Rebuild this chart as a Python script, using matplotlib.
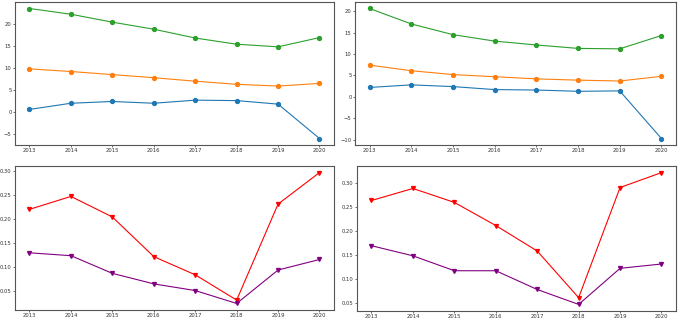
import matplotlib
matplotlib.use("Agg")
import matplotlib.pyplot as plt

years = [2013, 2014, 2015, 2016, 2017, 2018, 2019, 2020]

# top-left panel
tl_blue = [0.6, 2.0, 2.4, 2.0, 2.7, 2.6, 1.8, -6.0]
tl_orange = [9.8, 9.2, 8.5, 7.8, 7.0, 6.3, 5.9, 6.5]
tl_green = [23.5, 22.2, 20.4, 18.8, 16.8, 15.4, 14.8, 16.9]

# top-right panel
tr_blue = [2.2, 2.8, 2.4, 1.7, 1.6, 1.3, 1.4, -9.7]
tr_orange = [7.4, 6.1, 5.2, 4.7, 4.2, 3.9, 3.7, 4.8]
tr_green = [20.6, 17.0, 14.5, 13.0, 12.1, 11.3, 11.2, 14.3]

# bottom-left panel
bl_red = [0.220, 0.247, 0.204, 0.121, 0.083, 0.030, 0.231, 0.297]
bl_purple = [0.129, 0.123, 0.086, 0.064, 0.050, 0.023, 0.093, 0.115]

# bottom-right panel
br_red = [0.264, 0.289, 0.260, 0.212, 0.159, 0.062, 0.291, 0.322]
br_purple = [0.170, 0.149, 0.118, 0.118, 0.079, 0.048, 0.123, 0.132]

W, H = 678, 320
fig = plt.figure(figsize=(W / 100, H / 100), dpi=100)


def px_axes(x0, y0, x1, y1):
    return fig.add_axes([x0 / W, 1 - y1 / H, (x1 - x0) / W, (y1 - y0) / H])


def style(ax):
    ax.set_xticks(years)
    ax.tick_params(labelsize=3.8, length=1.5, width=0.5, pad=1, colors="#333333")
    for s in ax.spines.values():
        s.set_linewidth(0.8)
        s.set_color("#555555")


lw, ms = 0.8, 2.8

ax = px_axes(15, 2, 334, 145)
ax.plot(years, tl_blue, marker="o", color="C0", lw=lw, ms=ms)
ax.plot(years, tl_orange, marker="o", color="C1", lw=lw, ms=ms)
ax.plot(years, tl_green, marker="o", color="C2", lw=lw, ms=ms)
style(ax)

ax = px_axes(355, 2, 676, 145)
ax.plot(years, tr_blue, marker="o", color="C0", lw=lw, ms=ms)
ax.plot(years, tr_orange, marker="o", color="C1", lw=lw, ms=ms)
ax.plot(years, tr_green, marker="o", color="C2", lw=lw, ms=ms)
style(ax)

ax = px_axes(15, 166, 334, 310)
ax.plot(years, bl_red, marker="v", color="red", lw=lw, ms=ms)
ax.plot(years, bl_purple, marker="v", color="purple", lw=lw, ms=ms)
style(ax)

ax = px_axes(357, 166, 676, 311)
ax.plot(years, br_red, marker="v", color="red", lw=lw, ms=ms)
ax.plot(years, br_purple, marker="v", color="purple", lw=lw, ms=ms)
style(ax)

fig.savefig("out.png", dpi=100)
